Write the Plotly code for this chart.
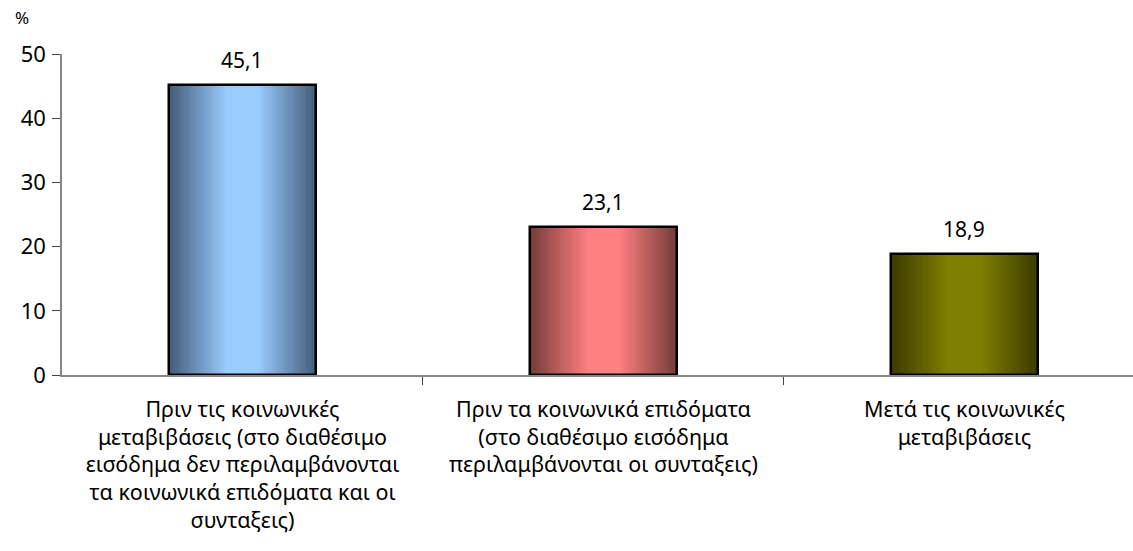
import plotly.graph_objects as go

categories = [
    "Πριν τις κοινωνικές<br>μεταβιβάσεις (στο διαθέσιμο<br>εισόδημα δεν περιλαμβάνονται<br>τα κοινωνικά επιδόματα και οι<br>συνταξεις)",
    "Πριν τα κοινωνικά επιδόματα<br>(στο διαθέσιμο εισόδημα<br>περιλαμβάνονται οι συνταξεις)",
    "Μετά τις κοινωνικές<br>μεταβιβάσεις",
]
values = [45.1, 23.1, 18.9]
light_colors = [(153, 204, 255), (255, 128, 128), (128, 128, 0)]
dark_colors = [(69, 94, 124), (120, 60, 60), (60, 60, 0)]

FONT = "Noto Sans"
BAR_W = 0.405
K = 40

fig = go.Figure()
x_idx = list(range(len(categories)))

for k in range(K):
    t = k / (K - 1)
    w = BAR_W * (1 - k / K)
    cols = []
    for lc, dc in zip(light_colors, dark_colors):
        c = tuple(round(d + (l - d) * min(1.0, t * 1.25)) for l, d in zip(lc, dc))
        cols.append("rgb(%d,%d,%d)" % c)
    fig.add_trace(go.Bar(x=x_idx, y=values, width=w, marker=dict(color=cols, line=dict(width=0)),
                         hoverinfo="skip", showlegend=False))

fig.add_trace(go.Bar(x=x_idx, y=values, width=BAR_W,
                     marker=dict(color="rgba(0,0,0,0)", line=dict(color="black", width=2.5)),
                     showlegend=False))

for i, v in enumerate(values):
    fig.add_annotation(x=i, y=v, text=("%.1f" % v).replace(".", ","), showarrow=False,
                       yanchor="bottom", yshift=9, font=dict(family=FONT, size=21, color="black"))

fig.add_annotation(x=22, y=18, xref="paper", yref="paper", text="%", showarrow=False,
                   font=dict(family=FONT, size=17, color="black"))

fig.update_layout(
    width=1133, height=551,
    margin=dict(l=62, r=0, t=54, b=176),
    barmode="overlay",
    bargap=0,
    plot_bgcolor="white", paper_bgcolor="white",
    font=dict(family=FONT, size=21, color="black"),
    xaxis=dict(
        tickmode="array", tickvals=x_idx, ticktext=categories,
        range=[-0.5, 2.467],
        showgrid=False, zeroline=False,
        showline=True, linecolor="#868686", linewidth=1.5,
        minor=dict(tickmode="array", tickvals=[0.5, 1.5], ticks="outside", ticklen=8, tickcolor="#404040"),
        ticks="", ticklabelstandoff=14,
        tickfont=dict(family=FONT, size=21.5),
    ),
    yaxis=dict(
        range=[0, 50], tickvals=[0, 10, 20, 30, 40, 50],
        showgrid=False, zeroline=False,
        showline=True, linecolor="#868686", linewidth=1.5,
        ticks="outside", ticklen=8, tickcolor="#404040",
        tickfont=dict(family=FONT, size=22),
        ticklabelstandoff=2,
    ),
)

# convert the "%" annotation position from pixels to paper coordinates
pw = 1133 - 62 - 0
ph = 551 - 54 - 176
ann = fig.layout.annotations[-1]
ann.update(x=(ann.x - 62) / pw, y=(551 - 176 - ann.y) / ph, xanchor="center", yanchor="middle")

fig.write_html("out.html", config={"displayModeBar": False},
               post_script="document.body.style.margin='0';document.body.style.overflow='hidden';")
